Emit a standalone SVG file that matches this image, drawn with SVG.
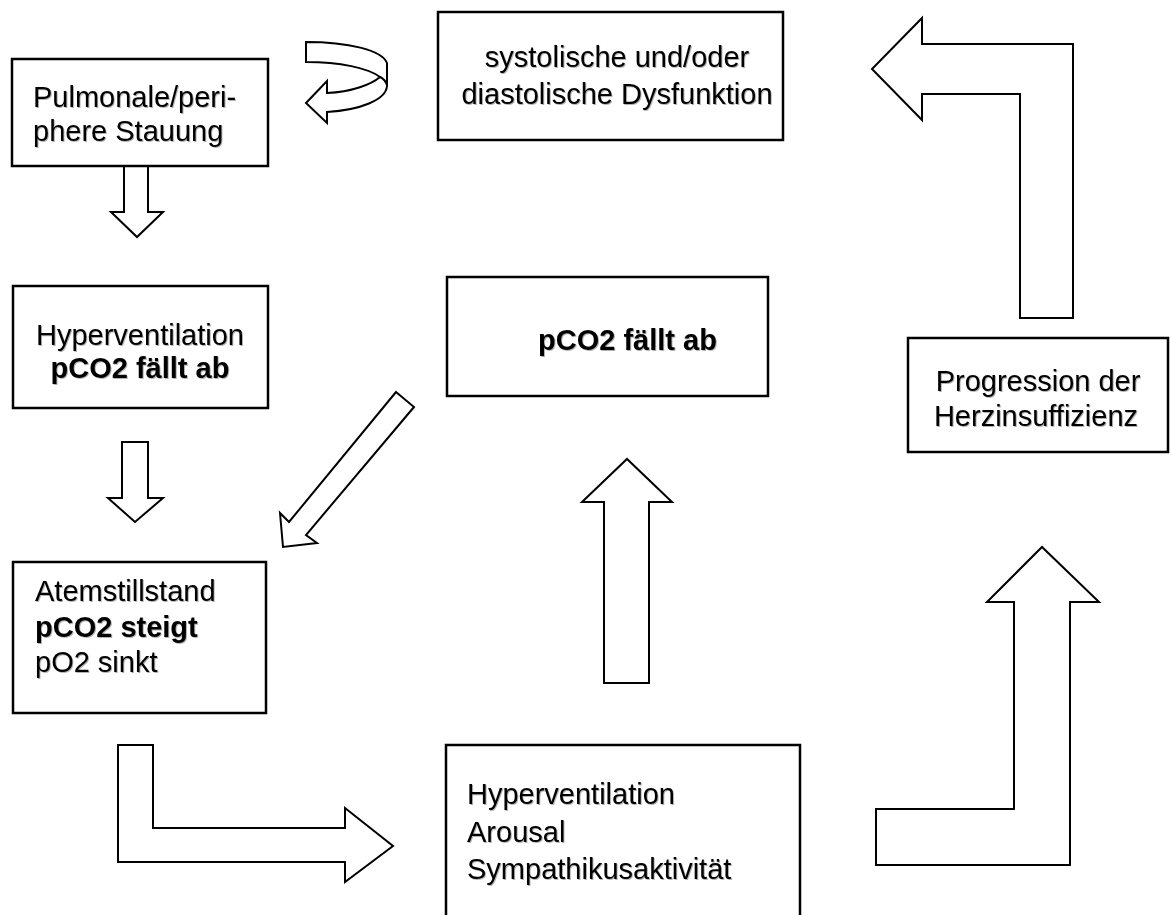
<svg xmlns="http://www.w3.org/2000/svg" width="1171" height="915" viewBox="0 0 1171 915">
<defs>
<filter id="sh" x="-5%" y="-20%" width="110%" height="140%">
<feDropShadow dx="1" dy="1" stdDeviation="0.7" flood-color="#000" flood-opacity="0.3"/>
</filter>
</defs>
<style>
.box{fill:#fff;stroke:#000;stroke-width:2.5}
.arr{fill:#fff;stroke:#000;stroke-width:2;stroke-linejoin:miter}
text{font-family:"Liberation Sans",Arial,sans-serif;font-size:29px;fill:#000;filter:url(#sh)}
.b{font-weight:bold}
.c{text-anchor:middle}
</style>
<rect width="1171" height="915" fill="#fff"/>
<g id="connectors">
<path class="arr" d="M306,42 C348,42 382,50 387,63 L387,86 C386,100 360,110 327,112 L327,123 L306,103 L327,81 L327,93 C352,92 372,84 380,77 C368,68 340,62 306,62 Z"/>
<path class="arr" fill="none" d="M380,77 C384,79 386,82 387,85"/>
<polygon class="arr" points="124,158 148,158 148,212 163,212 137,237 111,212 124,212"/>
<polygon class="arr" points="122,442 148,442 148,498 163,498 135,522 108,498 122,498"/>
<polygon class="arr" points="396,392 414,407 306,535 317,543 283,547 280,513 289,522"/>
<polygon class="arr" points="604,683 649,683 649,502 672,502 627,459 582,502 604,502"/>
<polygon class="arr" points="118,745 153,745 153,828 345,828 345,808 393,846 345,882 345,862 118,862"/>
<polygon class="arr" points="876,865 1070,865 1070,602 1099,602 1042,547 987,602 1014,602 1014,809 876,809"/>
<polygon class="arr" points="1073,318 1020,318 1020,94 922,94 922,120 872,69 922,18 922,44 1073,44"/>
</g>
<g id="n1">
<rect class="box" x="12" y="59" width="256" height="107"/>
<text x="33" y="107">Pulmonale/peri-</text>
<text x="33" y="141">phere Stauung</text>
</g>
<g id="n2">
<rect class="box" x="438" y="12" width="345" height="128"/>
<text class="c" x="617" y="67">systolische und/oder</text>
<text class="c" x="617" y="104">diastolische Dysfunktion</text>
</g>
<g id="n3">
<rect class="box" x="13" y="286" width="255" height="122"/>
<text class="c" x="140" y="345">Hyperventilation</text>
<text class="c b" x="140" y="378">pCO2 fällt ab</text>
</g>
<g id="n4">
<rect class="box" x="447" y="277" width="321" height="119"/>
<text class="b" x="538" y="350">pCO2 fällt ab</text>
</g>
<g id="n5">
<rect class="box" x="908" y="338" width="260" height="114"/>
<text class="c" x="1038" y="391">Progression der</text>
<text class="c" x="1036" y="426">Herzinsuffizienz</text>
</g>
<g id="n6">
<rect class="box" x="13" y="562" width="253" height="151"/>
<text x="35" y="601">Atemstillstand</text>
<text class="b" x="35" y="637">pCO2 steigt</text>
<text x="35" y="672">pO2 sinkt</text>
</g>
<g id="n7">
<rect class="box" x="446" y="745" width="354" height="200"/>
<text x="467" y="804">Hyperventilation</text>
<text x="467" y="842">Arousal</text>
<text x="467" y="879">Sympathikusaktivität</text>
</g>
</svg>
